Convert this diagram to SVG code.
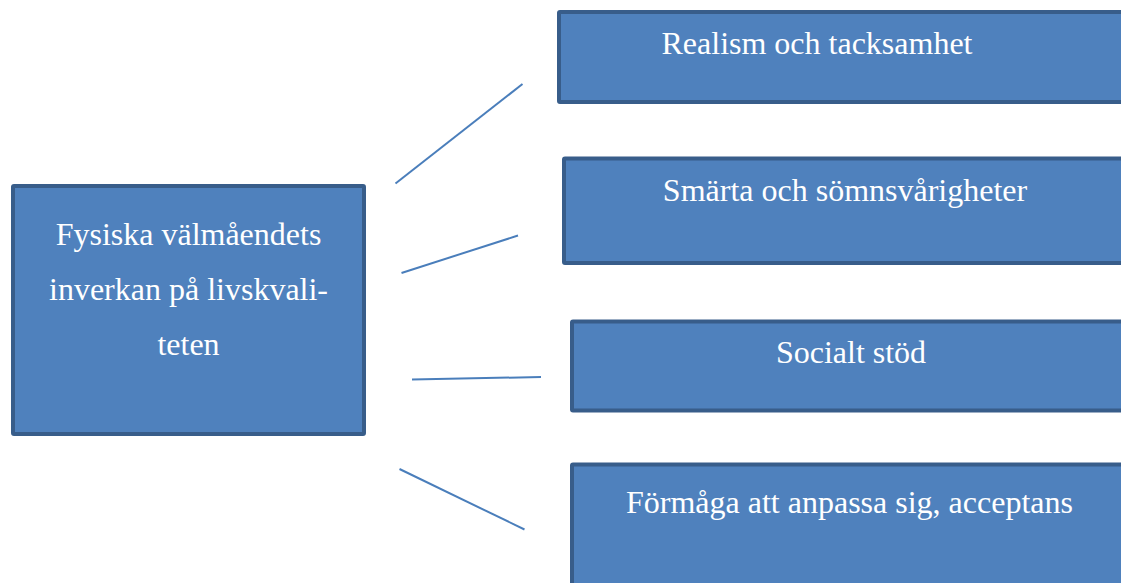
<svg xmlns="http://www.w3.org/2000/svg" width="1121" height="583" viewBox="0 0 1121 583">
<style>
.box{fill:#4F81BD;stroke:#385D8A;stroke-width:4;}
.t{font-family:"Liberation Serif","Times New Roman",serif;font-size:32px;fill:#FFFFFF;text-anchor:middle;}
.c{stroke:#4A7EBB;stroke-width:2;fill:none;}
</style>
<rect width="1121" height="583" fill="#FFFFFF"/>
<g id="connectors">
<line class="c" x1="395.5" y1="183.5" x2="522.5" y2="84"/>
<line class="c" x1="401.5" y1="273" x2="518" y2="235.5"/>
<line class="c" x1="412" y1="379.5" x2="541" y2="377"/>
<line class="c" x1="399.5" y1="469" x2="524.5" y2="529.5"/>
</g>
<g id="center">
<rect class="box" x="13" y="186" width="351" height="248" rx="1"/>
<text class="t" x="188.5" y="245">Fysiska välmåendets</text>
<text class="t" x="188.5" y="300">inverkan på livskvali-</text>
<text class="t" x="188.5" y="355">teten</text>
</g>
<g id="n1">
<rect class="box" x="559" y="12" width="600" height="90" rx="1"/>
<text class="t" x="817" y="54">Realism och tacksamhet</text>
</g>
<g id="n2">
<rect class="box" x="564" y="158.5" width="600" height="104.5" rx="1"/>
<text class="t" x="845" y="201">Smärta och sömnsvårigheter</text>
</g>
<g id="n3">
<rect class="box" x="572" y="321.5" width="600" height="89" rx="1"/>
<text class="t" x="851" y="363">Socialt stöd</text>
</g>
<g id="n4">
<rect class="box" x="572" y="464.5" width="600" height="140" rx="1"/>
<text class="t" x="849.5" y="513">Förmåga att anpassa sig, acceptans</text>
</g>
</svg>
